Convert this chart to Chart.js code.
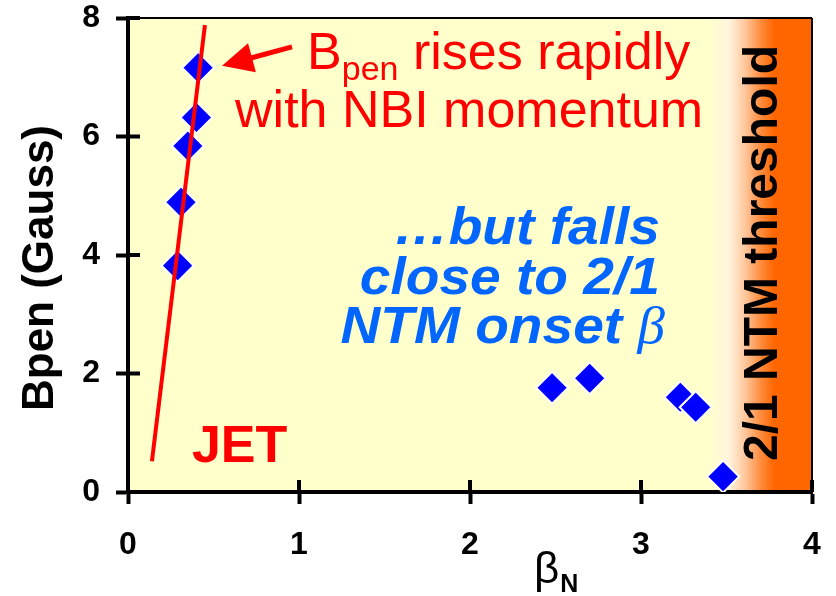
<!DOCTYPE html>
<html>
<head>
<meta charset="utf-8">
<script src="https://cdn.jsdelivr.net/npm/chart.js@4.4.1/dist/chart.umd.min.js"></script>
<style>
  html, body { margin: 0; padding: 0; background: #ffffff; }
  #wrap { width: 836px; height: 596px; }
</style>
</head>
<body>
<div id="wrap"><canvas id="c" width="836" height="596"></canvas></div>
<script>
// Measured JET shots: normalised beta vs penetration field
const betaN = [0.41, 0.40, 0.35, 0.31, 0.29, 2.48, 2.70, 3.23, 3.32, 3.48];
const bpen  = [7.16, 6.32, 5.84, 4.89, 3.82, 1.76, 1.92, 1.60, 1.43, 0.26];

// Trend line through the low-beta (NBI momentum) scan
const fitBeta = [0.14, 0.45];
const fitBpen = [0.52, 7.88];

// Axis ticks
const xTicks = [0, 1, 2, 3, 4];
const yTicks = [0, 2, 4, 6, 8];

// Beta range over which the background shades into the 2/1 NTM threshold band
const ntmBand = [3.40, 3.78];

const SANS = '"Liberation Sans", Arial, Helvetica, sans-serif';
const SERIF = '"Liberation Serif", "DejaVu Serif", serif';

const decorations = {
  id: 'decorations',
  beforeDraw(chart) {
    const { ctx, chartArea: a, scales: { x } } = chart;
    ctx.save();
    ctx.fillStyle = '#ffffcc';
    ctx.fillRect(a.left, a.top, a.right - a.left, a.bottom - a.top);
    const g0 = x.getPixelForValue(ntmBand[0]);
    const g1 = x.getPixelForValue(ntmBand[1]);
    const grad = ctx.createLinearGradient(g0, 0, g1, 0);
    grad.addColorStop(0, '#ffffcc');
    grad.addColorStop(0.3, '#fff4de');
    grad.addColorStop(0.55, '#ffc79c');
    grad.addColorStop(0.8, '#ff8a3a');
    grad.addColorStop(1, '#ff6600');
    ctx.fillStyle = grad;
    ctx.fillRect(g0, a.top, a.right - g0, a.bottom - a.top);
    ctx.restore();
  },
  afterDraw(chart) {
    const { ctx, chartArea: a, scales: { x, y } } = chart;
    const px = v => x.getPixelForValue(v);
    const py = v => y.getPixelForValue(v);
    ctx.save();

    // frame: thin top and right edges
    ctx.strokeStyle = '#000';
    ctx.lineWidth = 2;
    ctx.beginPath();
    ctx.moveTo(a.left, a.top); ctx.lineTo(a.right, a.top);
    ctx.moveTo(a.right, a.top); ctx.lineTo(a.right, a.bottom);
    ctx.stroke();

    // inward halves of the tick marks
    ctx.lineWidth = 4;
    ctx.beginPath();
    yTicks.forEach(v => { ctx.moveTo(a.left, py(v)); ctx.lineTo(a.left + 12, py(v)); });
    xTicks.forEach(v => { ctx.moveTo(px(v), a.bottom); ctx.lineTo(px(v), a.bottom - 12); });
    ctx.stroke();

    // red annotation: arrow + text
    ctx.fillStyle = '#ff0000';
    ctx.strokeStyle = '#ff0000';
    const tail = [px(0.959), py(7.513)];
    const tip = [px(0.550), py(7.193)];
    const dx = tip[0] - tail[0], dy = tip[1] - tail[1];
    const len = Math.hypot(dx, dy), ux = dx / len, uy = dy / len;
    const bx = tip[0] - ux * 31, by = tip[1] - uy * 31;
    ctx.lineWidth = 5;
    ctx.beginPath();
    ctx.moveTo(tail[0], tail[1]);
    ctx.lineTo(bx + ux * 4, by + uy * 4);
    ctx.stroke();
    ctx.beginPath();
    ctx.moveTo(tip[0], tip[1]);
    ctx.lineTo(bx - uy * 15, by + ux * 15);
    ctx.lineTo(bx + uy * 15, by - ux * 15);
    ctx.closePath();
    ctx.fill();

    ctx.textAlign = 'left';
    ctx.textBaseline = 'alphabetic';
    let tx = px(1.047), ty = py(7.143);
    ctx.font = '52px ' + SANS;
    ctx.fillText('B', tx, ty);
    tx += ctx.measureText('B').width;
    ctx.font = '34px ' + SANS;
    ctx.fillText('pen', tx, ty + 11);
    tx += ctx.measureText('pen').width;
    ctx.font = '52px ' + SANS;
    tx += ctx.measureText(' ').width;
    ctx.fillText('rises rapidly', tx, ty);
    ctx.fillText('with NBI momentum', px(0.626), py(6.168));

    ctx.font = 'bold 52px ' + SANS;
    ctx.fillText('JET', px(0.374), py(0.504));

    // blue annotation, right-aligned and slightly widened
    ctx.fillStyle = '#0066ff';
    ctx.textAlign = 'right';
    const sx = 1.06;
    const blueLine = (draw, right, base) => {
      ctx.save();
      ctx.translate(right, base);
      ctx.scale(sx, 1);
      draw();
      ctx.restore();
    };
    ctx.font = 'italic bold 52px ' + SANS;
    blueLine(() => ctx.fillText('\u2026but falls', 0, 0), px(3.111), py(4.185));
    blueLine(() => ctx.fillText('close to 2/1', 0, 0), px(3.111), py(3.345));
    blueLine(() => {
      ctx.font = 'italic 52px ' + SERIF;
      const wb = ctx.measureText('\u03b2').width;
      ctx.fillText('\u03b2', 0, 0);
      ctx.font = 'italic bold 52px ' + SANS;
      ctx.fillText('NTM onset ', -wb, 0);
    }, px(3.14), py(2.521));

    // threshold label, rotated
    ctx.fillStyle = '#000';
    ctx.textAlign = 'center';
    ctx.font = 'bold 48px ' + SANS;
    ctx.translate(px(3.795), py(4.034));
    ctx.rotate(-Math.PI / 2);
    ctx.fillText('2/1 NTM threshold', 0, 0);
    ctx.setTransform(1, 0, 0, 1, 0, 0);

    // axis titles
    ctx.font = 'bold 44px ' + SANS;
    ctx.translate(53, (a.top + a.bottom) / 2 + 13);
    ctx.rotate(-Math.PI / 2);
    ctx.fillText('Bpen (Gauss)', 0, 0);
    ctx.setTransform(1, 0, 0, 1, 0, 0);

    ctx.textAlign = 'left';
    ctx.font = '44px ' + SANS;
    const bx0 = 534;
    ctx.fillText('\u03b2', bx0, 583);
    const wBeta = ctx.measureText('\u03b2').width;
    ctx.font = 'bold 25px ' + SANS;
    ctx.fillText('N', bx0 + wBeta + 1, 592);

    ctx.restore();
  }
};

const tickStyle = {
  display: true,
  drawOnChartArea: false,
  drawTicks: true,
  tickLength: 12,
  tickWidth: 4,
  tickColor: '#000'
};

new Chart(document.getElementById('c'), {
  data: {
    datasets: [
      {
        type: 'line',
        label: 'trend',
        data: fitBeta.map((b, i) => ({ x: b, y: fitBpen[i] })),
        borderColor: '#ff0000',
        borderWidth: 4,
        pointRadius: 0,
        fill: false,
        tension: 0,
        order: 0
      },
      {
        type: 'scatter',
        label: 'Bpen',
        data: betaN.map((b, i) => ({ x: b, y: bpen[i] })),
        pointStyle: 'rectRot',
        pointRadius: 16,
        pointHoverRadius: 16,
        backgroundColor: '#0000ff',
        borderColor: '#ffffff',
        borderWidth: 2,
        order: 1
      }
    ]
  },
  options: {
    responsive: false,
    devicePixelRatio: 1,
    animation: false,
    layout: { padding: { left: 0, right: 24, top: 16, bottom: 0 } },
    plugins: { legend: { display: false }, tooltip: { enabled: false } },
    scales: {
      x: {
        type: 'linear',
        min: 0, max: 4,
        afterBuildTicks: s => { s.ticks = xTicks.map(v => ({ value: v })); },
        afterFit: s => { s.height = 104; s.paddingLeft = 0; s.paddingRight = 0; },
        ticks: { color: '#000', padding: 22, font: { family: SANS, size: 32, weight: 'bold' } },
        grid: tickStyle,
        border: { display: true, color: '#000', width: 4 }
      },
      y: {
        type: 'linear',
        min: 0, max: 8,
        afterBuildTicks: s => { s.ticks = yTicks.map(v => ({ value: v })); },
        afterFit: s => { s.width = 128; s.paddingTop = 0; s.paddingBottom = 0; },
        ticks: { color: '#000', padding: 16, font: { family: SANS, size: 32, weight: 'bold' } },
        grid: tickStyle,
        border: { display: true, color: '#000', width: 4 }
      }
    }
  },
  plugins: [decorations]
});
</script>
</body>
</html>
